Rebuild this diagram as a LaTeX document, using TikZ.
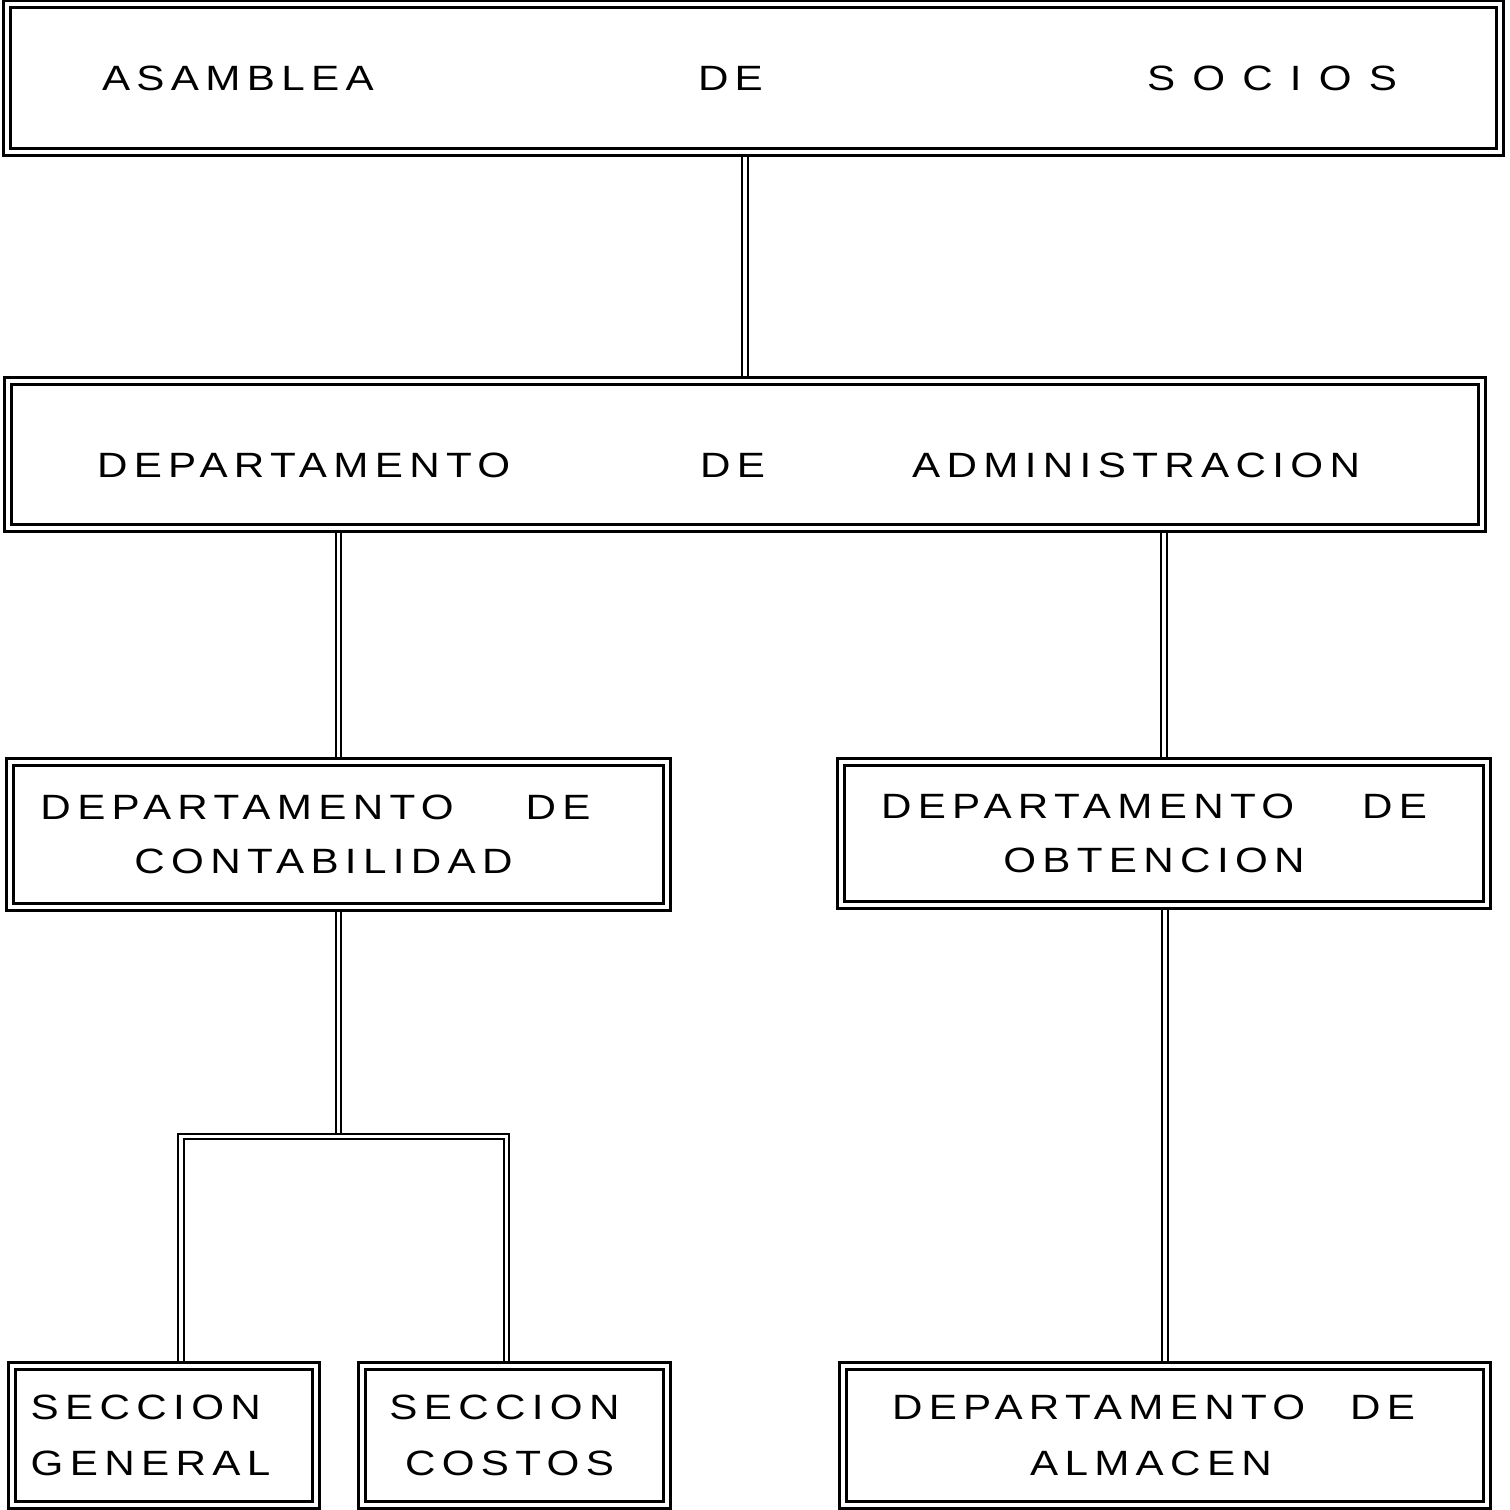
\documentclass[tikz,border=0pt]{standalone}
\usepackage{fontspec}
\newfontfamily\orgfont{Liberation Sans}[FakeStretch=1.2, LetterSpace=18]
\usetikzlibrary{positioning, calc, backgrounds}

\begin{document}
\begin{tikzpicture}[
    box/.style={draw, line width=0.9pt, double, double distance=1.1pt,
        inner sep=0pt, font=\orgfont, align=center},
    link/.style={draw, line width=0.55pt, double, double distance=1pt}
]

    \useasboundingbox (0,0) rectangle (15.10,-15.09);

    % boxes
    \node [box, minimum width=14.93cm, minimum height=1.48cm] (asamblea) at (7.535,-0.78)
        {\makebox[12.95cm][l]{\rlap{ASAMBLEA}\hspace*{5.96cm}\rlap{DE}\hfill
            \makebox[2.5cm][s]{S\hfill O\hfill C\hfill I\hfill O\hfill S}}\hspace*{0.08cm}};
    \node [box, minimum width=14.74cm, minimum height=1.47cm] (administracion) at (7.45,-4.545)
        {\raisebox{-0.23cm}[0pt][0pt]{\makebox[12.63cm][l]{\rlap{DEPARTAMENTO}\hspace*{6.03cm}\rlap{DE}\hfill ADMINISTRACION}}\hspace*{0.33cm}};
    \node [box, minimum width=6.57cm, minimum height=1.45cm] (contabilidad) at (3.385,-8.345)
        {\makebox[5.5cm]{DEPARTAMENTO\hfill DE}\hspace*{0.46cm}\\[3.5pt]
         CONTABILIDAD\hspace*{0.3cm}};
    \node [box, minimum width=6.46cm, minimum height=1.43cm] (obtencion) at (11.64,-8.335)
        {\makebox[5.46cm]{DEPARTAMENTO\hfill DE}\hspace*{0.2cm}\\[3.5pt]
         OBTENCION\hspace*{0.2cm}};
    \node [box, minimum width=3.04cm, minimum height=1.39cm, align=left] (general) at (1.64,-14.355)
        {SECCION\\[4pt] GENERAL\hspace*{0.27cm}};
    \node [box, minimum width=3.05cm, minimum height=1.39cm] (costos) at (5.145,-14.355)
        {SECCION\hspace*{0.2cm}\\[4pt] COSTOS\hspace*{0.1cm}};
    \node [box, minimum width=6.44cm, minimum height=1.39cm] (almacen) at (11.65,-14.355)
        {\makebox[5.23cm]{DEPARTAMENTO\hfill DE}\hspace*{0.23cm}\\[4pt]
         ALMACEN\hspace*{0.28cm}};

    % connectors, under the boxes
    \begin{scope}[on background layer]
        \fill[white] (0,0) rectangle (15.10,-15.09);
        \draw[link] (administracion.north) -- (administracion.north |- asamblea.south);
        \draw[link] (contabilidad.north) -- (contabilidad.north |- administracion.south);
        \draw[link] (obtencion.north) -- (obtencion.north |- administracion.south);
        \draw[link] (almacen.north) -- (almacen.north |- obtencion.south);
        \draw[link] (contabilidad.south) -- ++(0,-2.28) coordinate (rama);
        \draw[link] ([xshift=0.17cm]general.north) |- (rama) -| ([xshift=-0.08cm]costos.north);
    \end{scope}

\end{tikzpicture}
\end{document}
